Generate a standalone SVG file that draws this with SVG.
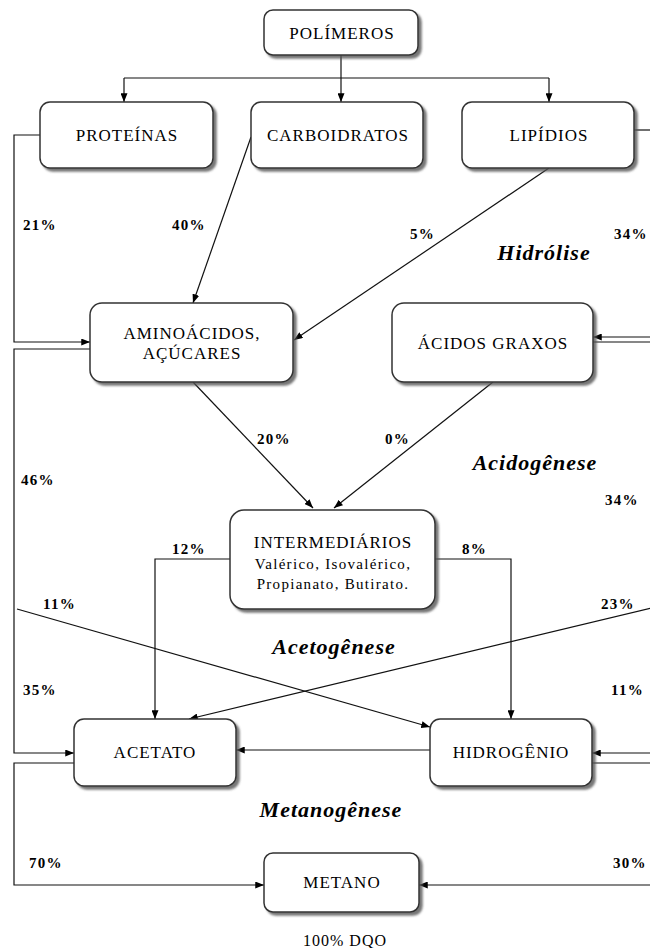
<svg xmlns="http://www.w3.org/2000/svg" width="650" height="948" viewBox="0 0 650 948">
<defs>
<filter id="sh" x="-10%" y="-10%" width="130%" height="140%">
<feDropShadow dx="3" dy="3" stdDeviation="1.2" flood-color="#555" flood-opacity="0.8"/>
</filter>
<marker id="ah" viewBox="0 0 10 8" refX="10" refY="4" markerWidth="9" markerHeight="7" markerUnits="userSpaceOnUse" orient="auto">
<path d="M0,0 L10,4 L0,8 Z" fill="#000"/>
</marker>
</defs>
<style>
.box{fill:#fff;stroke:#333;stroke-width:1.5;filter:url(#sh)}
.bt{font-family:"Liberation Serif","Times New Roman",serif;font-size:17px;letter-spacing:1px;text-anchor:middle;fill:#000}
.st{font-family:"Liberation Serif","Times New Roman",serif;font-size:15px;letter-spacing:1.3px;text-anchor:middle;fill:#000}
.pc{font-family:"Liberation Serif","Times New Roman",serif;font-size:15px;font-weight:bold;letter-spacing:1.3px;fill:#000}
.ph{font-family:"Liberation Serif","Times New Roman",serif;font-size:22px;font-weight:bold;font-style:italic;letter-spacing:1px;text-anchor:middle;fill:#000}
.ln{fill:none;stroke:#111;stroke-width:1.2}
.ar{marker-end:url(#ah)}
</style>
<rect width="650" height="948" fill="#fff"/>

<g id="connectors">
<path class="ln" d="M341,55 V78"/>
<path class="ln" d="M124,78 H549"/>
<path class="ln ar" d="M124,78 V102"/>
<path class="ln ar" d="M341,78 V102"/>
<path class="ln ar" d="M549,78 V102"/>
<path class="ln ar" d="M40,135 H14 V342 H90"/>
<path class="ln ar" d="M251,137 L193,303"/>
<path class="ln ar" d="M549,168 L294,340"/>
<path class="ln" d="M634,130 H660"/>
<path class="ln ar" d="M660,337 H593"/>
<path class="ln" d="M593,342 H660"/>
<path class="ln ar" d="M90,349 H14 V753 H74"/>
<path class="ln ar" d="M193,382 L313,508"/>
<path class="ln ar" d="M493,382 L334,508"/>
<path class="ln ar" d="M230,559 H155 V719"/>
<path class="ln ar" d="M435,559 H511 V719"/>
<path class="ln ar" d="M17,609 L430,727"/>
<path class="ln ar" d="M660,606 L189,719"/>
<path class="ln ar" d="M430,750 H236"/>
<path class="ln ar" d="M660,753 H592"/>
<path class="ln" d="M592,763 H660"/>
<path class="ln ar" d="M74,763 H14 V885 H264"/>
<path class="ln ar" d="M660,885 H419"/>
</g>

<g id="polimeros"><rect class="box" x="264" y="10" width="154" height="45" rx="9"/><text class="bt" x="342" y="39">POLÍMEROS</text></g>
<g id="proteinas"><rect class="box" x="40" y="102" width="173" height="66" rx="10"/><text class="bt" x="127" y="141">PROTEÍNAS</text></g>
<g id="carboidratos"><rect class="box" x="251" y="102" width="172" height="66" rx="10"/><text class="bt" x="338" y="141">CARBOIDRATOS</text></g>
<g id="lipidios"><rect class="box" x="462" y="102" width="172" height="66" rx="10"/><text class="bt" x="549" y="141">LIPÍDIOS</text></g>
<g id="aminoacidos"><rect class="box" x="90" y="303" width="203" height="79" rx="12"/><text class="bt" x="192" y="339">AMINOÁCIDOS,</text><text class="bt" x="192" y="359">AÇÚCARES</text></g>
<g id="acidos-graxos"><rect class="box" x="392" y="303" width="201" height="79" rx="12"/><text class="bt" x="493" y="349">ÁCIDOS GRAXOS</text></g>
<g id="intermediarios"><rect class="box" x="230" y="510" width="205" height="99" rx="14"/><text class="bt" x="333" y="548">INTERMEDIÁRIOS</text><text class="st" x="333" y="569">Valérico, Isovalérico,</text><text class="st" x="333" y="589">Propianato, Butirato.</text></g>
<g id="acetato"><rect class="box" x="74" y="719" width="162" height="67" rx="10"/><text class="bt" x="155" y="758">ACETATO</text></g>
<g id="hidrogenio"><rect class="box" x="430" y="719" width="162" height="67" rx="10"/><text class="bt" x="511" y="758">HIDROGÊNIO</text></g>
<g id="metano"><rect class="box" x="264" y="853" width="155" height="59" rx="9"/><text class="bt" x="342" y="888">METANO</text></g>

<g id="labels">
<text class="pc" x="23" y="230">21%</text>
<text class="pc" x="172" y="230">40%</text>
<text class="pc" x="410" y="239">5%</text>
<text class="pc" x="614" y="239">34%</text>
<text class="ph" x="544" y="260">Hidrólise</text>
<text class="pc" x="257" y="444">20%</text>
<text class="pc" x="385" y="444">0%</text>
<text class="ph" x="535" y="470">Acidogênese</text>
<text class="pc" x="21" y="485">46%</text>
<text class="pc" x="605" y="505">34%</text>
<text class="pc" x="172" y="554">12%</text>
<text class="pc" x="462" y="554">8%</text>
<text class="pc" x="43" y="609">11%</text>
<text class="pc" x="601" y="609">23%</text>
<text class="ph" x="334" y="654">Acetogênese</text>
<text class="pc" x="23" y="695">35%</text>
<text class="pc" x="611" y="695">11%</text>
<text class="ph" x="331" y="817">Metanogênese</text>
<text class="pc" x="29" y="868">70%</text>
<text class="pc" x="613" y="868">30%</text>
<text class="bt" x="345" y="946" style="font-size:16px">100% DQO</text>
</g>
</svg>
